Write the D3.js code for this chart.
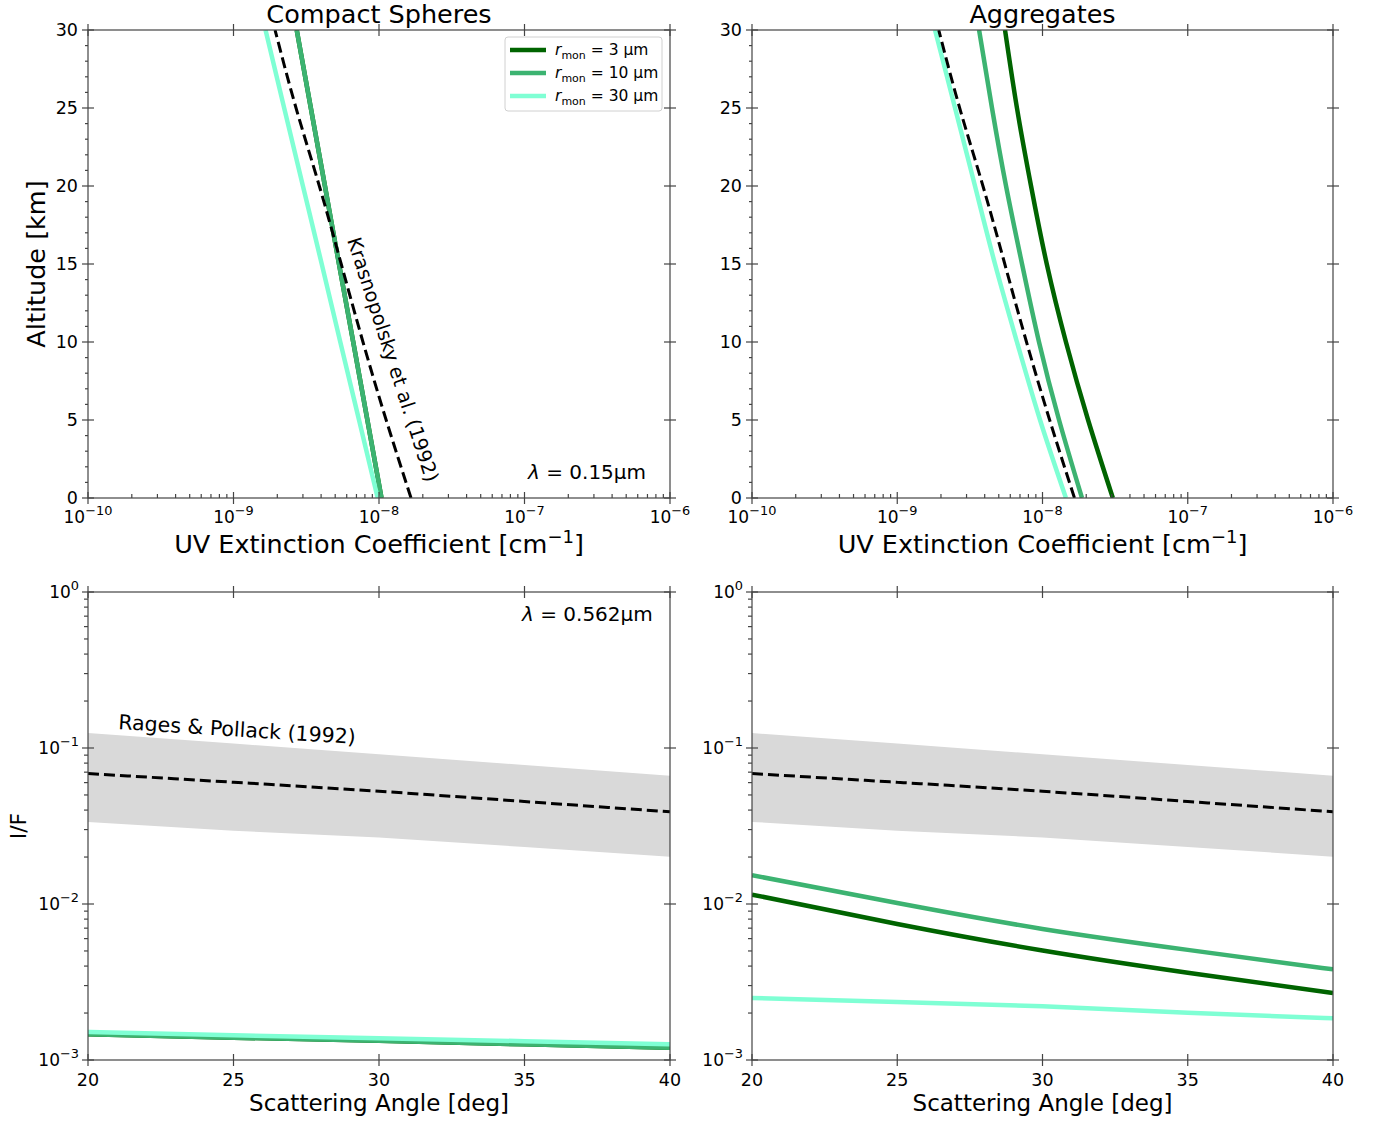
<!DOCTYPE html>
<html><head><meta charset="utf-8">
<script src="https://cdn.jsdelivr.net/npm/d3@7"></script>
<style>
body{margin:0;background:#fff}
text{font-family:"DejaVu Sans",sans-serif;fill:#000}
</style>
</head><body>
<svg id="c" width="1385" height="1121"></svg>
<script>
// ---------------- DATA ----------------
const altitudes = [0, 5, 10, 15, 20, 25, 30];              // km
// Compact spheres, UV extinction (cm^-1) at lambda = 0.15 um
const compactUV_3  = [1.04e-8, 8.32e-9, 6.65e-9, 5.31e-9, 4.25e-9, 3.40e-9, 2.72e-9];
const compactUV_10 = [1.04e-8, 8.32e-9, 6.65e-9, 5.31e-9, 4.25e-9, 3.40e-9, 2.72e-9];
const compactUV_30 = [9.8e-9, 7.29e-9, 5.42e-9, 4.04e-9, 3.0e-9, 2.23e-9, 1.66e-9];
// Aggregates, UV extinction
const aggUV_3  = [3.05e-8, 2.06e-8, 1.45e-8, 1.07e-8, 8.34e-9, 6.67e-9, 5.52e-9];
const aggUV_10 = [1.87e-8, 1.30e-8, 9.46e-9, 7.23e-9, 5.61e-9, 4.49e-9, 3.66e-9];
const aggUV_30 = [1.45e-8, 9.62e-9, 6.67e-9, 4.71e-9, 3.43e-9, 2.50e-9, 1.82e-9];
// Krasnopolsky et al. (1992)
const krasnopolsky = [1.66e-8, 1.12e-8, 7.76e-9, 5.50e-9, 3.89e-9, 2.69e-9, 1.93e-9];

const angles = [20, 25, 30, 35, 40];                        // deg
// I/F at lambda = 0.562 um
const compactIF_3  = [1.46e-3, 1.39e-3, 1.33e-3, 1.26e-3, 1.20e-3];
const compactIF_10 = [1.46e-3, 1.39e-3, 1.33e-3, 1.26e-3, 1.20e-3];
const compactIF_30 = [1.51e-3, 1.44e-3, 1.38e-3, 1.32e-3, 1.26e-3];
const aggIF_3  = [1.148e-2, 7.45e-3, 5.04e-3, 3.63e-3, 2.69e-3];
const aggIF_10 = [1.53e-2, 1.014e-2, 6.92e-3, 5.08e-3, 3.81e-3];
const aggIF_30 = [2.50e-3, 2.35e-3, 2.21e-3, 2.01e-3, 1.85e-3];
// Rages & Pollack (1992)
const ragesMid   = [0.0686, 0.0603, 0.0528, 0.0454, 0.0390];
const ragesUpper = [0.1247, 0.1067, 0.0912, 0.0778, 0.0665];
const ragesLower = [0.0336, 0.0295, 0.0267, 0.0232, 0.0201];

const seriesNames = ["3 µm", "10 µm", "30 µm"];
const seriesColors = ["#006400", "#3cb371", "#7fffd4"];

const uvTicks = [1e-10, 1e-9, 1e-8, 1e-7, 1e-6];
const uvTickExp = ["−10", "−9", "−8", "−7", "−6"];
const altTicks = [0, 5, 10, 15, 20, 25, 30];
const angTicks = [20, 25, 30, 35, 40];
const ifTicks = [1e-3, 1e-2, 1e-1, 1];
const ifTickExp = ["−3", "−2", "−1", "0"];

// ---------------- LAYOUT ----------------
const svg = d3.select("#c");
const AX = "#444";
const panels = {
  tl: {x0: 88, x1: 670, y0: 30, y1: 498},
  tr: {x0: 752, x1: 1333, y0: 30, y1: 498},
  bl: {x0: 88, x1: 670, y0: 592, y1: 1060},
  br: {x0: 752, x1: 1333, y0: 592, y1: 1060}
};

function clip(id, p) {
  svg.append("clipPath").attr("id", id).append("rect")
    .attr("x", p.x0).attr("y", p.y0).attr("width", p.x1 - p.x0).attr("height", p.y1 - p.y0);
}

function tick(g, x1, y1, x2, y2) {
  g.append("line").attr("x1", x1).attr("y1", y1).attr("x2", x2).attr("y2", y2)
    .attr("stroke", AX).attr("stroke-width", 1.2);
}

function powText(g, x, y, anchor, exp, size) {
  const t = g.append("text").attr("x", x).attr("y", y).attr("text-anchor", anchor)
    .style("font-size", size + "px");
  t.append("tspan").text("10");
  t.append("tspan").attr("dy", -size * 0.45).style("font-size", (size * 0.76) + "px").text(exp);
  return t;
}

function topPanel(key, title) {
  const p = panels[key];
  const x = d3.scaleLog().domain([1e-10, 1e-6]).range([p.x0, p.x1]);
  const y = d3.scaleLinear().domain([0, 30]).range([p.y1, p.y0]);
  const g = svg.append("g");
  clip("clip-" + key, p);
  uvTicks.forEach((v, i) => {
    tick(g, x(v), p.y1 - 6, x(v), p.y1 + 6);
    tick(g, x(v), p.y0 - 6, x(v), p.y0 + 6);
    powText(g, x(v), p.y1 + 25, "middle", uvTickExp[i], 17);
  });
  for (let e = -10; e < -6; e++) for (let m = 2; m <= 9; m++) {
    const v = m * Math.pow(10, e);
    tick(g, x(v), p.y1, x(v), p.y1 - 4);
  }
  altTicks.forEach(v => {
    tick(g, p.x0 - 6, y(v), p.x0 + 6, y(v));
    tick(g, p.x1 - 6, y(v), p.x1 + 6, y(v));
    g.append("text").attr("x", p.x0 - 10).attr("y", y(v) + 6).attr("text-anchor", "end")
      .style("font-size", "17.5px").text(v);
  });
  for (let v = 0; v <= 30; v++) if (v % 5) tick(g, p.x0, y(v), p.x0 - 3, y(v));
  g.append("rect").attr("x", p.x0).attr("y", p.y0).attr("width", p.x1 - p.x0).attr("height", p.y1 - p.y0)
    .attr("fill", "none").attr("stroke", AX).attr("stroke-width", 1.2);
  g.append("text").attr("x", (p.x0 + p.x1) / 2).attr("y", 23).attr("text-anchor", "middle")
    .style("font-size", "25.5px").text(title);
  const xl = g.append("text").attr("x", (p.x0 + p.x1) / 2).attr("y", 553).attr("text-anchor", "middle")
    .style("font-size", "25.5px");
  xl.append("tspan").text("UV Extinction Coefficient [cm");
  xl.append("tspan").attr("dy", -10).style("font-size", "18px").text("−1");
  xl.append("tspan").attr("dy", 10).text("]");
  return {x, y, g};
}

function bottomPanel(key) {
  const p = panels[key];
  const x = d3.scaleLinear().domain([20, 40]).range([p.x0, p.x1]);
  const y = d3.scaleLog().domain([1e-3, 1]).range([p.y1, p.y0]);
  const g = svg.append("g");
  clip("clip-" + key, p);
  angTicks.forEach(v => {
    tick(g, x(v), p.y1 - 6, x(v), p.y1 + 6);
    tick(g, x(v), p.y0 - 6, x(v), p.y0 + 6);
    g.append("text").attr("x", x(v)).attr("y", p.y1 + 26).attr("text-anchor", "middle")
      .style("font-size", "17.5px").text(v);
  });
  ifTicks.forEach((v, i) => {
    tick(g, p.x0 - 6, y(v), p.x0 + 6, y(v));
    tick(g, p.x1 - 6, y(v), p.x1 + 6, y(v));
    powText(g, p.x0 - 9, y(v) + 6, "end", ifTickExp[i], 17);
  });
  for (let e = -3; e < 0; e++) for (let m = 2; m <= 9; m++) {
    const v = m * Math.pow(10, e);
    tick(g, p.x0, y(v), p.x0 - 4, y(v));
  }
  g.append("rect").attr("x", p.x0).attr("y", p.y0).attr("width", p.x1 - p.x0).attr("height", p.y1 - p.y0)
    .attr("fill", "none").attr("stroke", AX).attr("stroke-width", 1.2);
  g.append("text").attr("x", (p.x0 + p.x1) / 2).attr("y", 1111).attr("text-anchor", "middle")
    .style("font-size", "23px").text("Scattering Angle [deg]");
  return {x, y, g};
}

// ---------------- TOP PANELS ----------------
function drawUV(key, title, series) {
  const P = topPanel(key, title);
  const plot = svg.insert("g", ":first-child").attr("clip-path", "url(#clip-" + key + ")");
  const line = d3.line().x(d => P.x(d[1])).y(d => P.y(d[0])).curve(d3.curveNatural);
  series.forEach((s, i) => {
    plot.append("path").attr("d", line(altitudes.map((a, j) => [a, s[j]])))
      .attr("fill", "none").attr("stroke", seriesColors[i]).attr("stroke-width", 4.5);
  });
  plot.append("path").attr("d", line(altitudes.map((a, j) => [a, krasnopolsky[j]])))
    .attr("fill", "none").attr("stroke", "#000").attr("stroke-width", 3)
    .attr("stroke-dasharray", "11,5");
  return P;
}
const TL = drawUV("tl", "Compact Spheres", [compactUV_3, compactUV_10, compactUV_30]);
const TR = drawUV("tr", "Aggregates", [aggUV_3, aggUV_10, aggUV_30]);

svg.append("text").attr("transform", "translate(45,264) rotate(-90)").attr("text-anchor", "middle")
  .style("font-size", "25.5px").text("Altitude [km]");

svg.append("text").attr("transform", "translate(347,240) rotate(72)")
  .style("font-size", "19.5px").text("Krasnopolsky et al. (1992)");

const l1 = svg.append("text").attr("x", 528).attr("y", 479).style("font-size", "20px");
l1.append("tspan").style("font-style", "italic").text("λ");
l1.append("tspan").text(" = 0.15µm");

// legend
const lg = svg.append("g");
lg.append("rect").attr("x", 505).attr("y", 37).attr("width", 157).attr("height", 74).attr("rx", 3)
  .attr("fill", "#fff").attr("fill-opacity", 0.85).attr("stroke", "#d0d0d0");
seriesNames.forEach((n, i) => {
  const yy = 50 + i * 23;
  lg.append("line").attr("x1", 510).attr("x2", 546).attr("y1", yy).attr("y2", yy)
    .attr("stroke", seriesColors[i]).attr("stroke-width", 4.5);
  const t = lg.append("text").attr("x", 555).attr("y", yy + 5).style("font-size", "15.5px");
  t.append("tspan").style("font-style", "italic").text("r");
  t.append("tspan").attr("dy", 4).style("font-size", "11px").text("mon");
  t.append("tspan").attr("dy", -4).text(" = " + n);
});

// ---------------- BOTTOM PANELS ----------------
function drawIF(key, series) {
  const P = bottomPanel(key);
  const plot = svg.insert("g", ":first-child").attr("clip-path", "url(#clip-" + key + ")");
  const area = d3.area().x((d, j) => P.x(angles[j])).y0((d, j) => P.y(ragesLower[j]))
    .y1((d, j) => P.y(ragesUpper[j]));
  plot.append("path").attr("d", area(angles)).attr("fill", "#d9d9d9");
  const line = d3.line().x(d => P.x(d[0])).y(d => P.y(d[1])).curve(d3.curveNatural);
  plot.append("path").attr("d", line(angles.map((a, j) => [a, ragesMid[j]])))
    .attr("fill", "none").attr("stroke", "#000").attr("stroke-width", 3)
    .attr("stroke-dasharray", "11,5");
  series.forEach((s, i) => {
    plot.append("path").attr("d", line(angles.map((a, j) => [a, s[j]])))
      .attr("fill", "none").attr("stroke", seriesColors[i]).attr("stroke-width", 4.5);
  });
  return P;
}
const BL = drawIF("bl", [compactIF_3, compactIF_10, compactIF_30]);
const BR = drawIF("br", [aggIF_3, aggIF_10, aggIF_30]);

svg.append("text").attr("transform", "translate(26,826) rotate(-90)").attr("text-anchor", "middle")
  .style("font-size", "22px").text("I/F");

svg.append("text").attr("transform", "translate(118,729) rotate(3.6)")
  .style("font-size", "20.5px").text("Rages & Pollack (1992)");

const l2 = svg.append("text").attr("x", 522).attr("y", 621).style("font-size", "20px");
l2.append("tspan").style("font-style", "italic").text("λ");
l2.append("tspan").text(" = 0.562µm");
</script>
</body></html>
